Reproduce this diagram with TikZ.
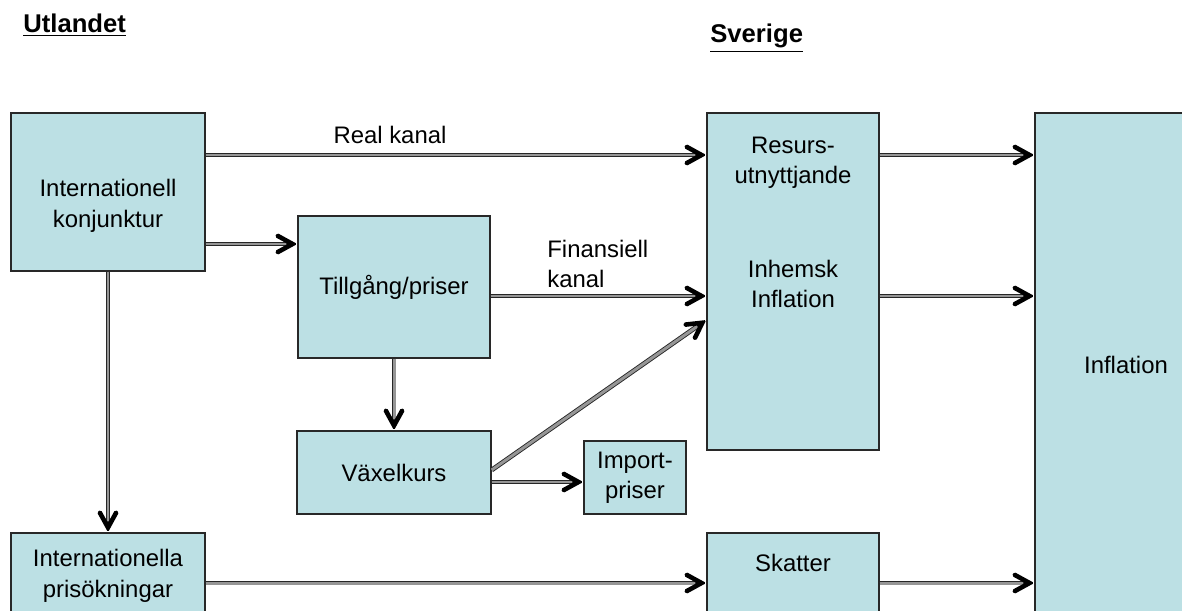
\documentclass[tikz,border=0pt]{standalone}
\usepackage{fontspec}
\setmainfont{Liberation Sans}
\usepackage{xcolor}
\usetikzlibrary{decorations.markings}
\definecolor{boxfill}{RGB}{188, 224, 228}
\definecolor{boxline}{RGB}{40, 40, 40}
\definecolor{dblfill}{RGB}{150, 150, 150}

\begin{document}
\begin{tikzpicture}[x=0.02cm, y=-0.02cm,
    font=\fontsize{13.6}{17.3}\selectfont,
    head/.style={anchor=base west, inner sep=0pt, font=\fontsize{14.6}{17.5}\selectfont\bfseries},
    box/.style={draw=boxline, line width=0.8pt, fill=boxfill, align=center, inner sep=0pt},
    txt/.style={align=center, inner sep=0pt},
    flow/.style={draw=black!85, line width=0.5pt, double=dblfill, double distance=1.7pt, shorten >=3pt,
      postaction={decorate, decoration={markings, mark=at position 1 with {
        \fill[black, rounded corners=0.9pt] (0pt,0pt) -- (-11.5pt,6.3pt) -- (-12.75pt,4pt) -- (-5.4pt,0pt)
          -- (-12.75pt,-4pt) -- (-11.5pt,-6.3pt) -- cycle;}}}}]
      \useasboundingbox (0,0) rectangle (1182,611);
      \clip (0,0) rectangle (1182,611);
      % headings
      \node[head](utl) at (23, 33) {\underline{Utlandet}};
      \node[head](sve) at (710, 43) {\underline{Sverige}};
      % boxes
      \node[box, minimum width=3.88cm, minimum height=3.16cm](konj) at (108, 192) {};
      \node[txt](konjtxt) at (108, 206) {Internationell\\konjunktur};
      \node[box, minimum width=3.84cm, minimum height=2.84cm](tillg) at (394, 287) {Tillgång/priser};
      \node[box, minimum width=3.88cm, minimum height=1.66cm](vaxel) at (394, 472.5) {Växelkurs};
      \node[box, minimum width=2.04cm, minimum height=1.46cm](import) at (635, 477.5) {Import-\\priser};
      \node[box, minimum width=3.44cm, minimum height=6.74cm](resurs) at (793, 281.5) {};
      \node[txt](resurstxt) at (793, 163) {Resurs-\\utnyttjande};
      \node[txt](inhemsk) at (793, 284) {Inhemsk\\Inflation};
      \node[box, minimum width=3.64cm, minimum height=10.08cm](infl) at (1126, 365) {Inflation};
      \node[box, minimum width=3.88cm, minimum height=1.72cm](pris) at (108, 576) {Internationella\\prisökningar};
      \node[box, minimum width=3.44cm, minimum height=1.88cm](skatt) at (793, 580) {};
      \node[txt](skatttxt) at (793, 563) {Skatter};
      % connectors
      \draw[flow] (konj.east |- 0,155) -- (resurs.west |- 0,155);
      \draw[flow] (konj.east |- 0,244) -- (tillg.west |- 0,244);
      \draw[flow] (tillg.east |- 0,296) -- (resurs.west |- 0,296);
      \draw[flow] (tillg.south) -- (vaxel.north);
      \draw[flow] (vaxel.east |- 0,470) -- (resurs.west |- 0,320);
      \draw[flow] (vaxel.east |- 0,482) -- (import.west |- 0,482);
      \draw[flow] (konj.south) -- (pris.north);
      \draw[flow] (pris.east |- 0,583) -- (skatt.west |- 0,583);
      \draw[flow] (resurs.east |- 0,155) -- (infl.west |- 0,155);
      \draw[flow] (resurs.east |- 0,296) -- (infl.west |- 0,296);
      \draw[flow] (skatt.east |- 0,583) -- (infl.west |- 0,583);
      % channel labels
      \node[txt](real) at (390, 135) {Real kanal};
      \node[txt, anchor=west, align=left](fin) at (547, 264) {Finansiell\\kanal};
    \end{tikzpicture}
\end{document}
